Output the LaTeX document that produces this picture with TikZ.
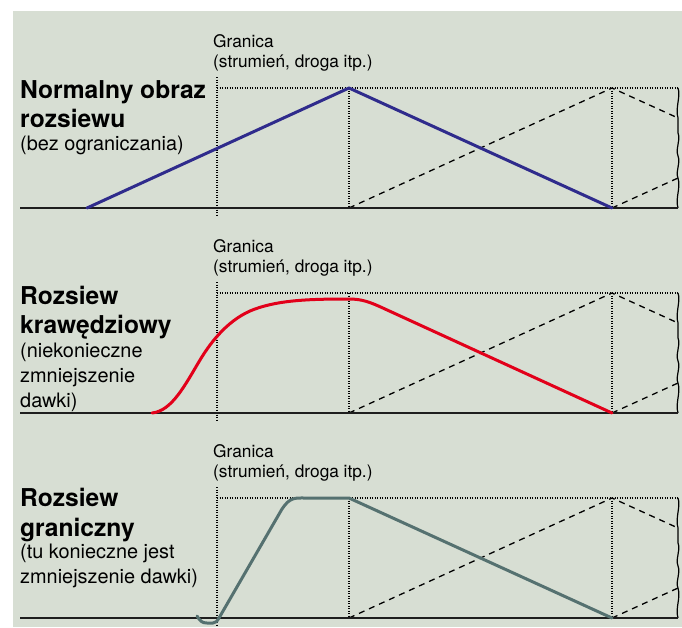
\documentclass[tikz,border=0pt]{standalone}
\usepackage{fontspec}
\setmainfont{TeX Gyre Heros}
\definecolor{bg}{HTML}{D7DED3}
\definecolor{bluec}{HTML}{2F2B8C}
\definecolor{redc}{HTML}{E2001A}
\definecolor{greyc}{HTML}{557170}
\definecolor{inkc}{HTML}{1E1E1E}
\begin{document}
\begin{tikzpicture}[x=1pt,y=-1pt,
  baseln/.style={draw=inkc,line width=1.8pt},
  dotln/.style={draw=black,line width=1.1pt,dash pattern=on 1pt off 1.5pt},
  dashln/.style={draw=black,line width=1.3pt,dash pattern=on 6pt off 5pt},
  wavyln/.style={draw=black,line width=1.2pt},
  curveln/.style={line width=3pt,line join=round,line cap=round},
  lbl/.style={anchor=base west,inner sep=0pt,text=black},
  boldl/.style={lbl,font=\fontsize{24.6}{28}\selectfont\bfseries},
  regl/.style={lbl,font=\fontsize{19.9}{24}\selectfont},
  granl/.style={lbl,font=\fontsize{17.3}{20}\selectfont}]
\useasboundingbox (0,0) rectangle (682,627);
\fill[white] (0,0) rectangle (682,627);
\fill[bg] (13,11) rectangle (682,627);
\foreach \b in {208,413,618}{
  \begin{scope}[shift={(0,\b)}]
    \coordinate (bl\b) at (20,0);
    \coordinate (br\b) at (678,0);
    \coordinate (gt\b) at (217,-131);
    \coordinate (gb\b) at (217,7);
    \coordinate (t1\b) at (217,-120);
    \coordinate (pk\b) at (349,-120);
    \coordinate (pb\b) at (349,0);
    \coordinate (qk\b) at (612,-120);
    \coordinate (qb\b) at (612,0);
    \coordinate (tr\b) at (678,-120);
    \coordinate (mr\b) at (678,-90);
    \coordinate (lr\b) at (678,-30);
    \draw[dotln] (gt\b) -- (gb\b);
    \draw[dotln] (t1\b) -- (tr\b);
    \draw[dotln] (pk\b) -- (pb\b);
    \draw[dotln] (qk\b) -- (qb\b);
    \draw[dashln] (pb\b) -- (qk\b) -- (mr\b);
    \draw[dashln] (qb\b) -- (lr\b);
    \draw[wavyln] (tr\b) .. controls (681,-112) and (675,-100) .. (mr\b) -- (678,-75)
      .. controls (681,-67) and (675,-60) .. (678,-52)
      .. controls (681,-44) and (675,-37) .. (lr\b)
      .. controls (681,-20) and (675,-10) .. (br\b);
    \draw[baseln] (bl\b) -- (br\b);
    \node[granl] (g\b) at (213,-161) {Granica};
    \node[granl] (s\b) at (213,-141) {(strumień, droga itp.)};
  \end{scope}
}
% panel 1
\draw[curveln,bluec] (87,208) -- (349,88) -- (612,208);
\node[boldl] (n1) at (20,98) {Normalny obraz};
\node[boldl] (n2) at (20,127) {rozsiewu};
\node[regl] (n3) at (20,150) {(bez ograniczania)};
% panel 2
\draw[curveln,redc] (152,413) .. controls (172,411) and (185,385) .. (200,360)
  .. controls (212,340) and (230,318) .. (255,309)
  .. controls (280,300) and (310,299) .. (349,299)
  .. controls (362,299) and (370,302) .. (385,309) -- (612,413);
\node[boldl] (k1) at (20,304) {Rozsiew};
\node[boldl] (k2) at (20,333) {krawędziowy};
\node[regl] (k3) at (20,357) {(niekonieczne};
\node[regl] (k4) at (20,382) {zmniejszenie};
\node[regl] (k5) at (20,407) {dawki)};
% panel 3
\draw[curveln,greyc] (197,616) .. controls (200,621) and (202,623) .. (207,623) -- (213,623)
  .. controls (216,623) and (217,621) .. (219,618) -- (282,509)
  .. controls (290,497) and (295,498) .. (305,498) -- (349,498) -- (612,618);
\node[boldl] (r1) at (20,506) {Rozsiew};
\node[boldl] (r2) at (20,536) {graniczny};
\node[regl] (r3) at (20,558) {(tu konieczne jest};
\node[regl] (r4) at (20,583) {zmniejszenie dawki)};
\end{tikzpicture}
\end{document}
